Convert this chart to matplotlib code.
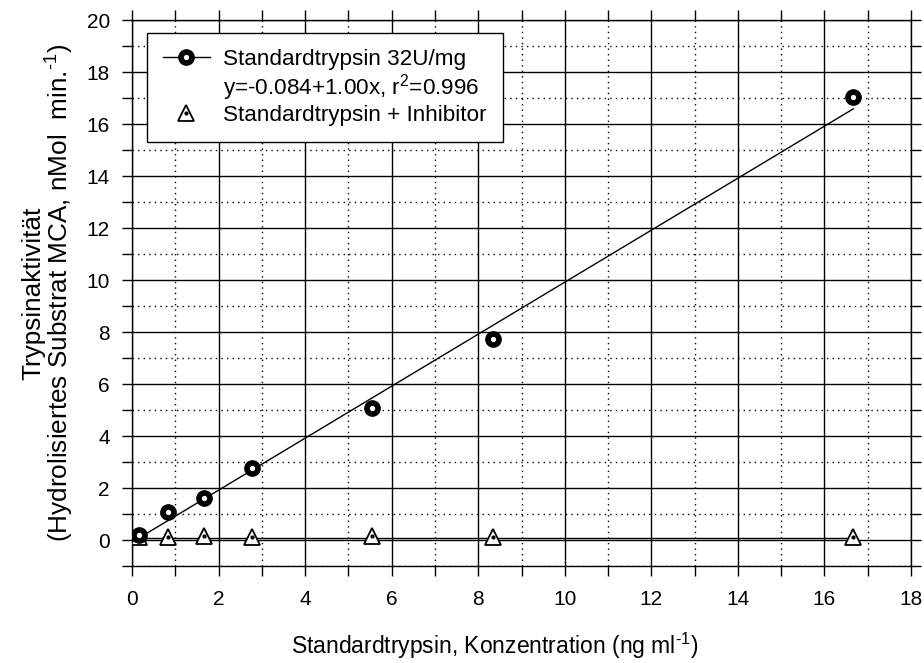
import matplotlib
matplotlib.use("Agg")
import matplotlib.pyplot as plt
from matplotlib.lines import Line2D
import numpy as np

plt.rcParams['font.family'] = ['Liberation Sans', 'DejaVu Sans']
plt.rcParams['mathtext.fontset'] = 'custom'
plt.rcParams['mathtext.rm'] = 'Liberation Sans'

conc = [0.167, 0.833, 1.667, 2.778, 5.556, 8.333, 16.667]
activity = [0.20, 1.08, 1.63, 2.77, 5.07, 7.73, 17.02]
inhib = [0.10, 0.10, 0.15, 0.10, 0.15, 0.10, 0.10]
fit_intercept = -0.084
fit_slope = 1.00
inhib_level = 0.06

fig = plt.figure(figsize=(9.24, 6.63), dpi=100)
ax = fig.add_axes([132/924, 1-566/663, (911-132)/924, (566-20)/663])

ax.set_xlim(0, 18)
ax.set_ylim(-1, 20)
ax.set_xticks(np.arange(0, 19, 2))
ax.set_xticks(np.arange(1, 18, 2), minor=True)
ax.set_yticks(np.arange(0, 21, 2))
ax.set_yticks(np.arange(-1, 20, 2), minor=True)
ax.grid(True, which='major', color='black', linestyle='-', linewidth=1.0)
ax.grid(True, which='minor', color='black', linestyle=(0, (1, 3)), linewidth=1.0)
ax.set_axisbelow(True)
for s in ax.spines.values():
    s.set_linewidth(1.0)
ax.tick_params(which='both', direction='out', length=7, width=1.0,
               top=True, right=True, labelsize=15, pad=10)
ax.tick_params(which='major', axis='y', pad=9)

xs = np.array([conc[0], conc[-1]])
ax.plot(xs, fit_intercept + fit_slope * xs, color='black', lw=1.0, zorder=3)
ax.plot(xs, [inhib_level, inhib_level], color='black', lw=1.0, zorder=3)

ax.plot(conc, inhib, linestyle='none', marker='^', markersize=11,
        markerfacecolor='white', markeredgecolor='black', markeredgewidth=1.3, zorder=4)
ax.plot(conc, inhib, linestyle='none', marker='o', markersize=2,
        color='black', zorder=5)
ax.plot(conc, activity, linestyle='none', marker='o', markersize=11,
        color='black', zorder=4)
ax.plot(conc, activity, linestyle='none', marker='o', markersize=2.8,
        color='white', zorder=5)

h1 = (Line2D([], [], color='black', lw=1.0, marker='o', markersize=11),
      Line2D([], [], linestyle='none', marker='o', markersize=2.8, color='white'))
h2 = Line2D([], [], linestyle='none')
h3 = (Line2D([], [], linestyle='none', marker='^', markersize=11,
             markerfacecolor='white', markeredgecolor='black', markeredgewidth=1.3),
      Line2D([], [], linestyle='none', marker='o', markersize=2, color='black'))
leg = ax.legend([h1, h2, h3],
                ['Standardtrypsin 32U/mg', r'y=-0.084+1.00x, r$^{\text{2}}$=0.996',
                 'Standardtrypsin + Inhibitor'],
                loc='upper left', bbox_to_anchor=(0.019, 0.976), borderaxespad=0,
                fontsize=16.2, frameon=True, fancybox=False, edgecolor='black',
                framealpha=1, handlelength=2.1, borderpad=0.7, labelspacing=0.1,
                handletextpad=0.6)
leg.get_frame().set_linewidth(1.0)
leg.set_zorder(10)

ax.set_xlabel(r'Standardtrypsin, Konzentration (ng ml$^{\text{-1}}$)', fontsize=16.5, labelpad=16)
ax.xaxis.label.set_x((495 - 132) / 779)
ax.set_ylabel('Trypsinaktivität\n(Hydrolisiertes Substrat MCA, nMol  min.' + r'$^{\text{-1}}$)',
              fontsize=18.8, labelpad=8, linespacing=0.9)

fig.savefig('out.png', dpi=100)
